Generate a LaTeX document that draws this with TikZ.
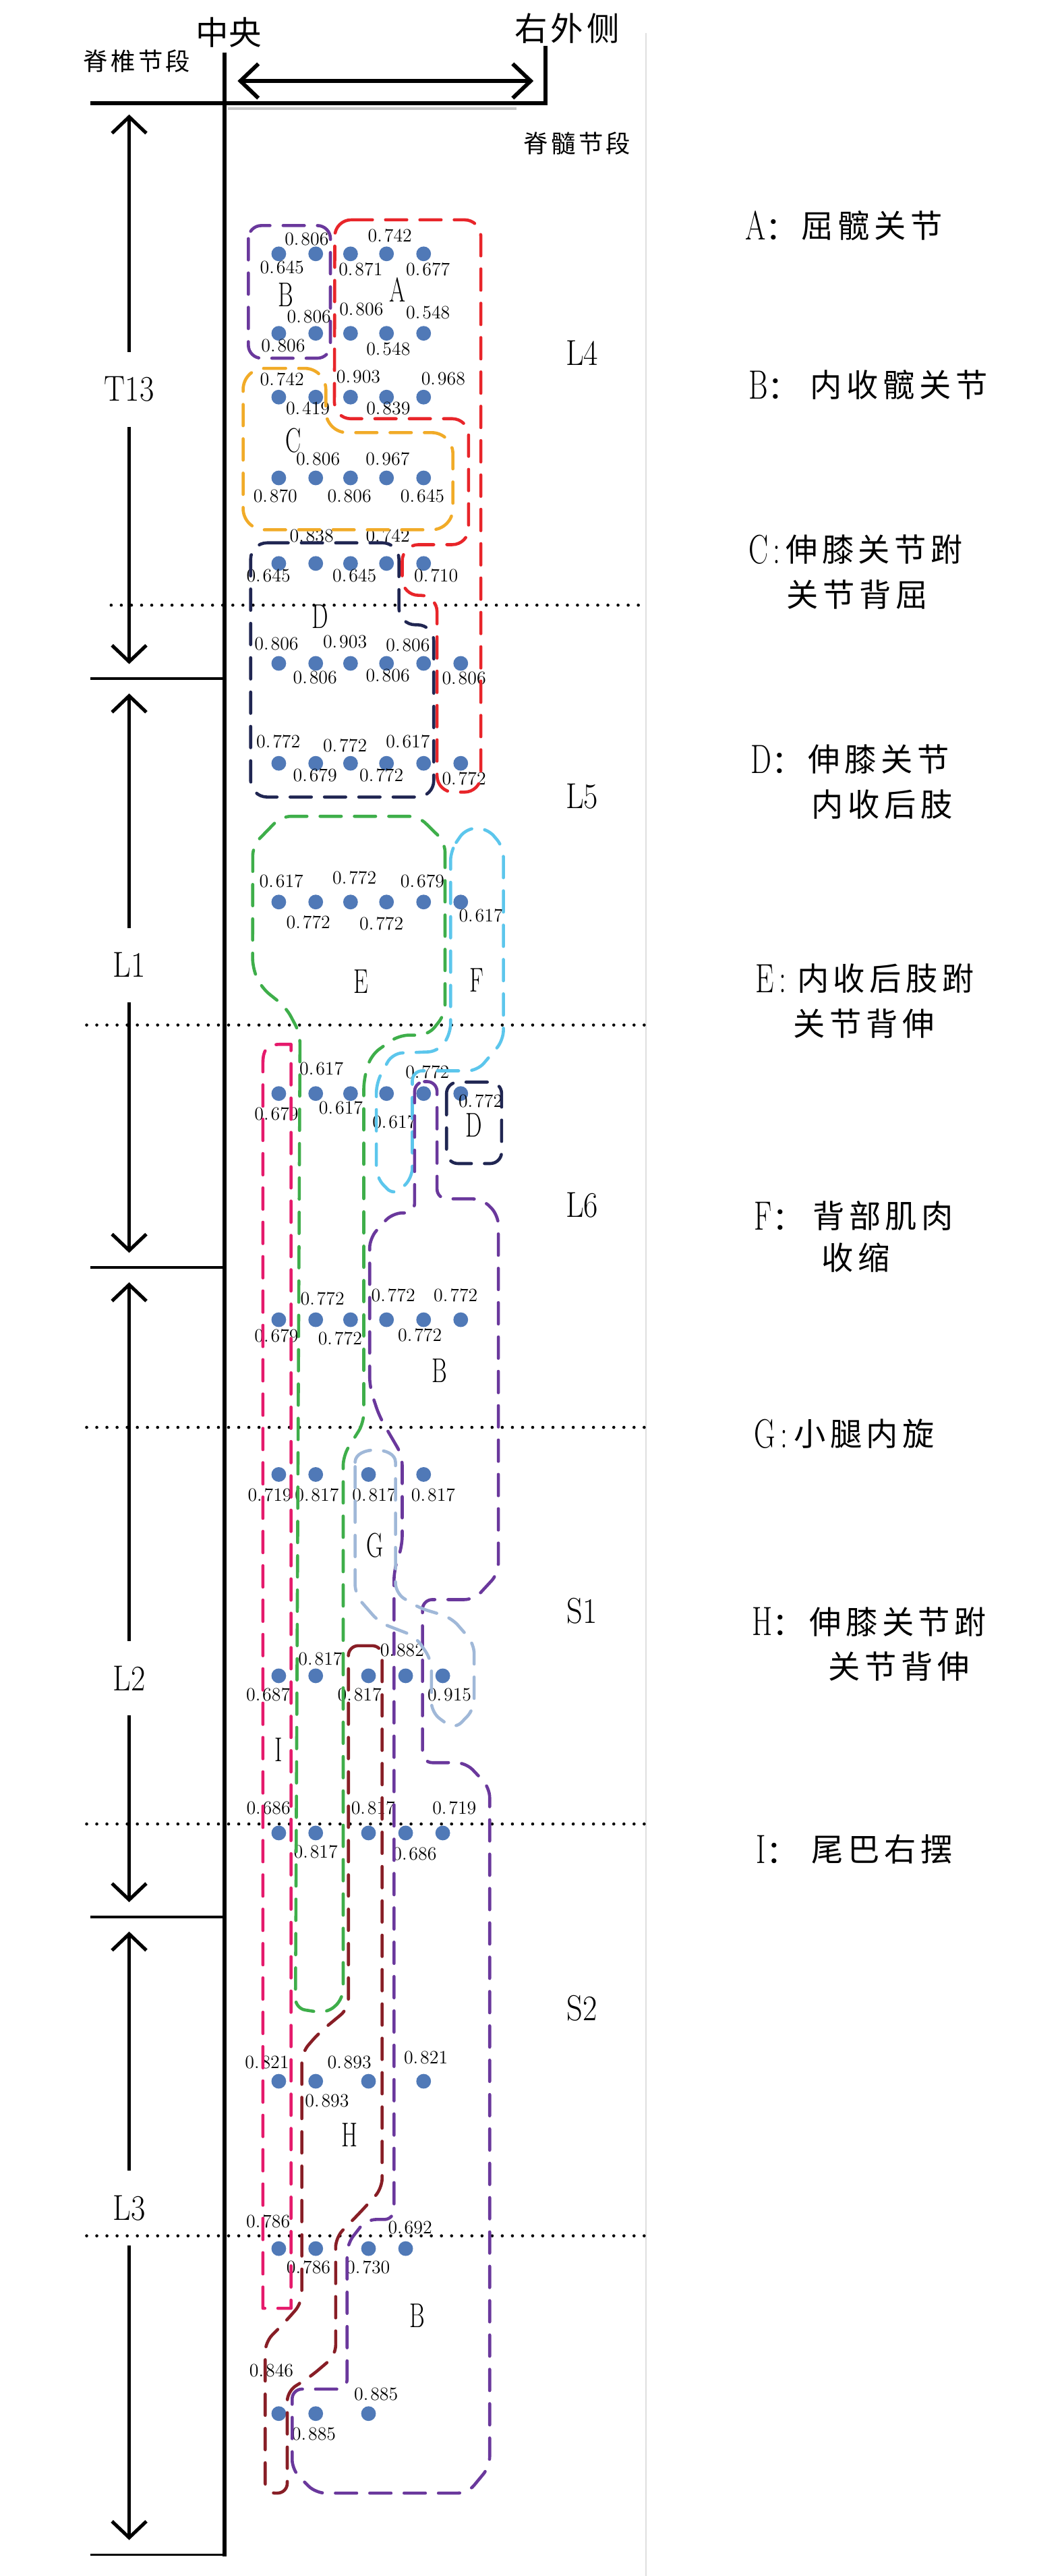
\documentclass[tikz,border=0pt]{standalone}
\usepackage{fontspec}
\usepackage{graphicx}
\usetikzlibrary{arrows.meta}
\newfontfamily\cjk{Noto Sans CJK SC}
\makeatletter
\newcommand\sptext[2]{\@tfor\sp@tok:=#2\do{\sp@tok\kern#1}}
\makeatother
\newcommand\nm[1]{0.\kern1.2pt#1}
\newcommand\dlet[1]{\scalebox{0.72}[1]{\fontsize{25}{25}\selectfont #1}}
\newcommand\dcol{{\cjk\fontsize{19.5}{20}\selectfont ：}}
\newcommand\rlet[1]{\scalebox{0.68}[1]{#1}}
\newcommand\segt[1]{\scalebox{0.87}[1]{#1}}
\definecolor{cA}{RGB}{232,37,42}
\definecolor{cB}{RGB}{106,56,156}
\definecolor{cC}{RGB}{241,171,40}
\definecolor{cD}{RGB}{32,38,82}
\definecolor{cE}{RGB}{62,174,74}
\definecolor{cF}{RGB}{92,198,236}
\definecolor{cG}{RGB}{160,184,216}
\definecolor{cH}{RGB}{136,30,38}
\definecolor{cI}{RGB}{229,26,108}
\definecolor{cdot}{RGB}{80,121,183}
\tikzset{
  reg/.style={line width=1.9pt, line cap=round, line join=round, dash pattern=on 13pt off 8pt},
  dotm/.style={circle, fill=cdot, inner sep=0pt, minimum size=9pt},
  num/.style={font=\fontsize{11.5}{12}\selectfont, inner sep=0pt},
  letr/.style={font=\fontsize{21}{21}\selectfont, inner sep=0pt},
  seg/.style={font=\fontsize{22}{22}\selectfont, inner sep=0pt},
  segl/.style={font=\fontsize{22}{22}\selectfont, inner xsep=0pt, inner ysep=15pt},
  dl/.style={anchor=west, inner sep=0pt},
  dt/.style={anchor=west, inner sep=0pt, font=\cjk\fontsize{19.5}{20}\selectfont},
  sepline/.style={line width=1.9pt, line cap=round, dash pattern=on 0pt off 6.2pt},
  tickl/.style={line width=1.5pt},
  barb/.style={-{Straight Barb[length=10pt,width=21pt]}, line width=2.1pt}
}
\begin{document}
\begin{tikzpicture}[x=1pt,y=-1pt]
\useasboundingbox (0,0) rectangle (649.5,1575);
% header
\node[font=\cjk\fontsize{20}{20}\selectfont, inner sep=0pt] (zy) at (140,20) {中央};
\node[font=\cjk\fontsize{20}{20}\selectfont, inner sep=0pt] (ywc) at (347.8,17.5) {\sptext{2pt}{右外侧}};
\node[font=\cjk\fontsize{15}{15}\selectfont, inner sep=0pt] (jzjd) at (84.6,37.5) {\sptext{1.8pt}{脊椎节段}};
\node[font=\cjk\fontsize{15}{15}\selectfont, inner sep=0pt] (jsjd) at (353.9,87.6) {\sptext{1.8pt}{脊髓节段}};
\draw[gray!25, line width=1pt] (395,20) -- (395,1575);
\draw[gray!45, line width=1.6pt] (139.5,66.5) -- (315.8,66.5);
\draw[line width=2.6pt] (55.3,63) -- (333.7,63) -- (333.7,28);
\coordinate (hl) at (145.3,49.5);
\coordinate (hr) at (326.3,49.5);
\draw[{Straight Barb[length=11pt,width=21pt]}-{Straight Barb[length=11pt,width=21pt]}, line width=2.4pt] (hl) -- (hr);
% axis and ticks
\draw[line width=2.5pt] (137.5,32) -- (137.5,1563);
\draw[tickl] (55.3,415) -- (137.5,415);
\draw[tickl] (55.3,775) -- (137.5,775);
\draw[tickl] (55.3,1172) -- (137.5,1172);
\draw[tickl] (55.3,1562) -- (137.5,1562);
% separators
\draw[sepline] (68,370) -- (395,370);
\draw[sepline] (53,626.7) -- (395,626.7);
\draw[sepline] (53,872.7) -- (395,872.7);
\draw[sepline] (53,1115.2) -- (395,1115.2);
\draw[sepline] (53,1367) -- (395,1367);
% left segment labels and arrows
\node[segl] (T13) at (79,238) {\segt{T13}};
\node[segl] (L1) at (79,590) {\segt{L1}};
\node[segl] (L2) at (79,1026) {\segt{L2}};
\node[segl] (L3) at (79,1350) {\segt{L3}};
\coordinate (t13a) at (79,70);
\coordinate (t13b) at (79,406);
\coordinate (l1a) at (79,424);
\coordinate (l1b) at (79,766);
\coordinate (l2a) at (79,784);
\coordinate (l2b) at (79,1163);
\coordinate (l3a) at (79,1181);
\coordinate (l3b) at (79,1553);
\draw[barb] (T13.north) -- (t13a);
\draw[barb] (T13.south) -- (t13b);
\draw[barb] (L1.north) -- (l1a);
\draw[barb] (L1.south) -- (l1b);
\draw[barb] (L2.north) -- (l2a);
\draw[barb] (L2.south) -- (l2b);
\draw[barb] (L3.north) -- (l3a);
\draw[barb] (L3.south) -- (l3b);
% right segment labels
\node[seg] (L4) at (356,216) {\segt{L4}};
\node[seg] (L5) at (356,487) {\segt{L5}};
\node[seg] (L6) at (356,737) {\segt{L6}};
\node[seg] (S1) at (356,985) {\segt{S1}};
\node[seg] (S2) at (356,1228) {\segt{S2}};
% dots
\foreach \r/\yy in {1/155.2,2/203.8,3/242.8,4/292.2,5/344.5}
  \foreach \c/\xx in {1/170.5,2/193.1,3/214.4,4/236.4,5/259.1}
    \node[dotm] (p\r-\c) at (\xx,\yy) {};
\foreach \r/\yy in {6/405.6,7/466.7,8/551.5,9/668.6,10/806.9}
  \foreach \c/\xx in {1/170.5,2/193.1,3/214.4,4/236.4,5/259.1,6/281.8}
    \node[dotm] (p\r-\c) at (\xx,\yy) {};
\foreach \c/\xx in {1/170.5,2/193.1,3/225.4,4/259.1}
  \node[dotm] (p11-\c) at (\xx,901.5) {};
\foreach \r/\yy in {12/1024.6,13/1120.7}
  \foreach \c/\xx in {1/170.5,2/193.1,3/225.4,4/248.1,5/270.8}
    \node[dotm] (p\r-\c) at (\xx,\yy) {};
\foreach \c/\xx in {1/170.5,2/193.1,3/225.4,4/259.1}
  \node[dotm] (p14-\c) at (\xx,1272.5) {};
\foreach \c/\xx in {1/170.5,2/193.1,3/225.4,4/248.1}
  \node[dotm] (p15-\c) at (\xx,1374.8) {};
\foreach \c/\xx in {1/170.5,2/193.1,3/225.4}
  \node[dotm] (p16-\c) at (\xx,1475.7) {};
% numbers
\node[num] (n1) at (187.6,146.4) {\nm{806}};
\node[num] (n2) at (172.5,163.3) {\nm{645}};
\node[num] (n3) at (238.5,144.2) {\nm{742}};
\node[num] (n4) at (220.6,164.8) {\nm{871}};
\node[num] (n5) at (261.8,164.8) {\nm{677}};
\node[num] (n6) at (189,193.5) {\nm{806}};
\node[num] (n7) at (221,189.1) {\nm{806}};
\node[num] (n8) at (261.8,191.3) {\nm{548}};
\node[num] (n9) at (173.2,211.2) {\nm{806}};
\node[num] (n10) at (237.5,213.4) {\nm{548}};
\node[num] (n11) at (172.5,231.8) {\nm{742}};
\node[num] (n12) at (219.2,230.3) {\nm{903}};
\node[num] (n13) at (271.1,231.5) {\nm{968}};
\node[num] (n14) at (188.3,249.8) {\nm{419}};
\node[num] (n15) at (237.5,249.6) {\nm{839}};
\node[num] (n16) at (194.5,280.7) {\nm{806}};
\node[num] (n17) at (237.1,280.7) {\nm{967}};
\node[num] (n18) at (168.4,303.2) {\nm{870}};
\node[num] (n19) at (213.7,303.2) {\nm{806}};
\node[num] (n20) at (258.4,303.2) {\nm{645}};
\node[num] (n21) at (190.6,327.5) {\nm{838}};
\node[num] (n22) at (237.2,327.5) {\nm{742}};
\node[num] (n23) at (164.2,351.8) {\nm{645}};
\node[num] (n24) at (216.8,351.8) {\nm{645}};
\node[num] (n25) at (266.7,351.8) {\nm{710}};
\node[num] (n26) at (169.1,393.8) {\nm{806}};
\node[num] (n27) at (211,392.3) {\nm{903}};
\node[num] (n28) at (249.5,394.4) {\nm{806}};
\node[num] (n29) at (192.7,414.4) {\nm{806}};
\node[num] (n30) at (237.2,413) {\nm{806}};
\node[num] (n31) at (283.8,414.6) {\nm{806}};
\node[num] (n32) at (170.2,453.4) {\nm{772}};
\node[num] (n33) at (211,455.7) {\nm{772}};
\node[num] (n34) at (249.5,453.4) {\nm{617}};
\node[num] (n35) at (192.7,474.1) {\nm{679}};
\node[num] (n36) at (233.3,474.1) {\nm{772}};
\node[num] (n37) at (283.8,476.2) {\nm{772}};
\node[num] (n38) at (172.1,538.9) {\nm{617}};
\node[num] (n39) at (216.8,536.7) {\nm{772}};
\node[num] (n40) at (258.4,538.9) {\nm{679}};
\node[num] (n41) at (188.6,564.1) {\nm{772}};
\node[num] (n42) at (233.3,564.8) {\nm{772}};
\node[num] (n43) at (294.1,559.7) {\nm{617}};
\node[num] (n44) at (196.6,653.2) {\nm{617}};
\node[num] (n45) at (261.4,655.4) {\nm{772}};
\node[num] (n46) at (169.1,681.2) {\nm{679}};
\node[num] (n47) at (208.5,677.5) {\nm{617}};
\node[num] (n48) at (241.2,686) {\nm{617}};
\node[num] (n49) at (293.9,673.1) {\nm{772}};
\node[num] (n50) at (197.2,794.2) {\nm{772}};
\node[num] (n51) at (240.5,792) {\nm{772}};
\node[num] (n52) at (278.7,792) {\nm{772}};
\node[num] (n53) at (169.1,816.8) {\nm{679}};
\node[num] (n54) at (208,818.5) {\nm{772}};
\node[num] (n55) at (256.8,816.3) {\nm{772}};
\node[num] (n56) at (165,914) {\nm{719}};
\node[num] (n57) at (193.8,914) {\nm{817}};
\node[num] (n58) at (228.9,914) {\nm{817}};
\node[num] (n59) at (265,914) {\nm{817}};
\node[num] (n60) at (195.9,1014.3) {\nm{817}};
\node[num] (n61) at (246,1008.9) {\nm{882}};
\node[num] (n62) at (164,1036.1) {\nm{687}};
\node[num] (n63) at (219.9,1036.1) {\nm{817}};
\node[num] (n64) at (274.9,1036.1) {\nm{915}};
\node[num] (n65) at (164.2,1105.6) {\nm{686}};
\node[num] (n66) at (228.2,1105.6) {\nm{817}};
\node[num] (n67) at (277.9,1105.6) {\nm{719}};
\node[num] (n68) at (193.1,1132.2) {\nm{817}};
\node[num] (n69) at (253.6,1133.6) {\nm{686}};
\node[num] (n70) at (163.3,1261.1) {\nm{821}};
\node[num] (n71) at (213.7,1261.1) {\nm{893}};
\node[num] (n72) at (260.5,1258.2) {\nm{821}};
\node[num] (n73) at (200,1284.3) {\nm{893}};
\node[num] (n74) at (164,1358.3) {\nm{786}};
\node[num] (n75) at (250.8,1362) {\nm{692}};
\node[num] (n76) at (188.7,1386.3) {\nm{786}};
\node[num] (n77) at (225.1,1386.3) {\nm{730}};
\node[num] (n78) at (166,1449.2) {\nm{846}};
\node[num] (n79) at (230,1463.9) {\nm{885}};
\node[num] (n80) at (192,1488.2) {\nm{885}};
% outlines
\draw[reg, cB, rounded corners=8] (151.9,137.9) rectangle (202.1,219);
\draw[reg, cA, rounded corners=10] (204.8,134.4) -- (294.1,134.4) -- (294.1,484.3) -- (267.3,484.3) -- (267.3,364) -- (246,364) -- (246,333) -- (286.6,333) -- (286.6,256) -- (204.5,256) -- cycle;
\draw[reg, cC, rounded corners=13] (148.7,225.2) -- (199.3,225.2) -- (199.3,264.5) -- (277,264.5) -- (277,323.9) -- (148.7,323.9) -- cycle;
\draw[reg, cD, rounded corners=10] (153.3,331.9) -- (244,331.9) -- (244,382) -- (265.3,382) -- (265.3,487.3) -- (153.3,487.3) -- cycle;
\draw[reg, cE, rounded corners=6] (154.6,517) -- (172,499.1) -- (256,499.1) -- (272.2,515) -- (272.2,620) -- (262,632.9) -- (244,632.9) -- (227,645) -- (222.5,660) -- (222.5,870) -- (209.9,890) -- (209.9,1222) -- (200,1231) -- (180.7,1228) -- (183.5,632) -- (175,616) -- (160,604) -- (154.5,592) -- cycle;
\draw[reg, cF, rounded corners=6] (275.6,520) -- (285,506.4) -- (298,506.4) -- (307.9,518) -- (307.9,636) -- (292,654.7) -- (252.2,654.7) -- (252.2,720) -- (241,731.2) -- (230.2,720) -- (230.2,662) -- (240,644) -- (268,642.9) -- (275.6,632) -- cycle;
\draw[reg, cD, rounded corners=7] (273.1,661.6) rectangle (306.8,711.4);
\draw[reg, cB, rounded corners=6] (253.6,661.3) -- (267.3,661.3) -- (267.3,733) -- (295,733) -- (304.8,743) -- (304.8,962) -- (290,978) -- (258.4,978) -- (258.4,1077.7) -- (285,1077.7) -- (299.5,1093) -- (299.5,1508) -- (286,1524.3) -- (193,1524.3) -- (178.7,1510) -- (178.7,1460.7) -- (212.3,1460.7) -- (212.3,1372) -- (224,1357) -- (241,1357) -- (241,960) -- (246,945) -- (246,890) -- (232,866) -- (226.1,848) -- (226.1,757) -- (240,741.6) -- (253.6,741.6) -- cycle;
\draw[reg, cG, rounded corners=6] (217.2,900) .. controls (217.2,884) and (241.9,884) .. (241.9,900) -- (241.9,974) -- (256,983) -- (276,989) -- (290,1005) -- (290,1045) -- (278,1057.5) -- (263.9,1047) -- (263.9,1015) -- (254,1000.5) -- (232,992) -- (217.2,975) -- cycle;
\draw[reg, cH, rounded corners=6] (213.1,1006.2) -- (233.7,1006.2) -- (233.7,1338) -- (220,1353) -- (205.3,1368) -- (205.3,1440) -- (190,1453) -- (175.7,1462) -- (175.7,1524.3) -- (162.2,1524.3) -- (162.2,1432) -- (175,1419) -- (184.6,1408) -- (184.6,1255) -- (195,1243) -- (213.1,1228) -- cycle;
\draw[reg, cI] (160.8,1411.3) -- (160.8,650) .. controls (160.8,641) and (164,638.5) .. (172,638.5) -- (178,638.5) -- (178,1411.3) -- cycle;
% region letters
\node[letr] (rA) at (243,177.3) {\rlet{A}};
\node[letr] (rB1) at (174.6,180.3) {\rlet{B}};
\node[letr] (rC) at (179.4,269.3) {\rlet{C}};
\node[letr] (rD1) at (195.9,376.9) {\rlet{D}};
\node[letr] (rE) at (220.7,600.2) {\rlet{E}};
\node[letr] (rF) at (291.4,599.4) {\rlet{F}};
\node[letr] (rD2) at (290,687.8) {\rlet{D}};
\node[letr] (rB2) at (269,838.1) {\rlet{B}};
\node[letr] (rG) at (229.5,944.9) {\rlet{G}};
\node[letr] (rI) at (170.2,1069.9) {\rlet{I}};
\node[letr] (rH) at (213.7,1305.3) {\rlet{H}};
\node[letr] (rB3) at (255.4,1416) {\rlet{B}};
% descriptions
\node[dl] (dAl) at (455.7,137.8) {\dlet{A}\dcol};
\node[dt] (dAt) at (490,137.8) {\sptext{2.7pt}{屈髋关节}};
\node[dl] (dBl) at (457.7,235.3) {\dlet{B}\dcol};
\node[dt] (dBt) at (495.5,235.3) {\sptext{2.7pt}{内收髋关节}};
\node[dl] (dCl) at (457.7,335.9) {\dlet{C\,:}};
\node[dt] (dCt) at (480.4,335.9) {\sptext{2.7pt}{伸膝关节跗}};
\node[dt] (dCt2) at (481,363.5) {\sptext{2.7pt}{关节背屈}};
\node[dl] (dDl) at (459,464.2) {\dlet{D}\dcol};
\node[dt] (dDt) at (494.2,464.2) {\sptext{2.7pt}{伸膝关节}};
\node[dt] (dDt2) at (496.2,491.8) {\sptext{2.7pt}{内收后肢}};
\node[dl] (dEl) at (461.9,598.4) {\dlet{E\,:}};
\node[dt] (dEt) at (487.3,598.4) {\sptext{2.7pt}{内收后肢跗}};
\node[dt] (dEt2) at (485.2,626) {\sptext{2.7pt}{关节背伸}};
\node[dl] (dFl) at (461.2,743.4) {\dlet{F}\dcol};
\node[dt] (dFt) at (496.9,743.4) {\sptext{2.7pt}{背部肌肉}};
\node[dt] (dFt2) at (502.4,769.1) {\sptext{2.7pt}{收缩}};
\node[dl] (dGl) at (461.2,876.5) {\dlet{G\,:}};
\node[dt] (dGt) at (485.3,876.5) {\sptext{2.7pt}{小腿内旋}};
\node[dl] (dHl) at (459.8,991.5) {\dlet{H}\dcol};
\node[dt] (dHt) at (494.9,991.5) {\sptext{2.7pt}{伸膝关节跗}};
\node[dt] (dHt2) at (506.5,1018.7) {\sptext{2.7pt}{关节背伸}};
\node[dl] (dIl) at (462.5,1130.6) {\dlet{I}\dcol};
\node[dt] (dIt) at (496.2,1130.6) {\sptext{2.7pt}{尾巴右摆}};
\end{tikzpicture}
\end{document}
